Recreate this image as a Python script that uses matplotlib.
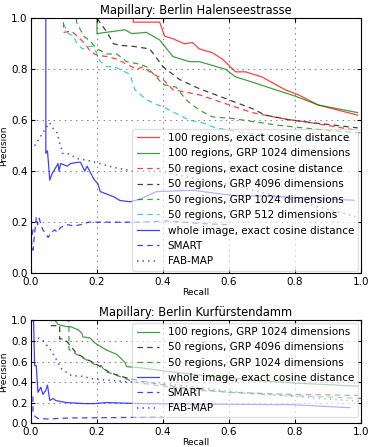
import matplotlib
matplotlib.use("Agg")
from matplotlib import pyplot as plt

# --- Mapillary: Berlin Halenseestrasse ---
h_100_exact_r = [0.05, 0.31, 0.31, 0.39, 0.405, 0.43, 0.465, 0.49, 0.51, 0.55, 0.58, 0.62, 0.65, 0.70, 0.77, 0.81, 0.87, 0.99]
h_100_exact_p = [1.0, 1.0, 0.985, 0.985, 0.93, 0.92, 0.90, 0.905, 0.88, 0.865, 0.84, 0.79, 0.79, 0.77, 0.72, 0.70, 0.66, 0.62]

h_100_grp1024_r = [0.1, 0.2, 0.2, 0.285, 0.305, 0.35, 0.39, 0.43, 0.48, 0.51, 0.59, 0.62, 0.67, 0.74, 0.80, 0.87, 0.99]
h_100_grp1024_p = [1.0, 1.0, 0.94, 0.955, 0.94, 0.945, 0.915, 0.85, 0.83, 0.83, 0.80, 0.77, 0.75, 0.72, 0.695, 0.66, 0.63]

h_50_exact_r = [0.098, 0.10, 0.123, 0.14, 0.164, 0.18, 0.20, 0.23, 0.26, 0.29, 0.32, 0.34, 0.36, 0.40, 0.43, 0.47, 0.51, 0.59, 0.67, 0.76, 0.83, 0.99]
h_50_exact_p = [0.985, 0.945, 0.95, 0.93, 0.90, 0.87, 0.855, 0.85, 0.84, 0.82, 0.80, 0.81, 0.79, 0.76, 0.72, 0.71, 0.70, 0.665, 0.63, 0.607, 0.594, 0.56]

h_50_grp4096_r = [0.2, 0.23, 0.25, 0.27, 0.31, 0.36, 0.40, 0.45, 0.51, 0.59, 0.67, 0.71, 0.79, 0.99]
h_50_grp4096_p = [1.0, 0.946, 0.90, 0.894, 0.89, 0.88, 0.81, 0.76, 0.724, 0.685, 0.646, 0.62, 0.60, 0.57]

h_50_grp1024_r = [0.138, 0.138, 0.16, 0.18, 0.20, 0.23, 0.26, 0.29, 0.33, 0.35, 0.38, 0.40, 0.44, 0.47, 0.51, 0.55, 0.61, 0.75, 0.9, 1.0]
h_50_grp1024_p = [1.0, 0.985, 0.93, 0.91, 0.88, 0.86, 0.86, 0.83, 0.82, 0.81, 0.77, 0.74, 0.73, 0.68, 0.64, 0.613, 0.607, 0.58, 0.56, 0.55]

h_50_grp512_r = [0.098, 0.113, 0.128, 0.14, 0.156, 0.176, 0.19, 0.21, 0.23, 0.25, 0.27, 0.30, 0.315, 0.35, 0.385, 0.42, 0.45, 0.48, 0.52, 0.56, 0.65, 0.8, 0.97]
h_50_grp512_p = [0.98, 0.94, 0.93, 0.90, 0.88, 0.89, 0.89, 0.83, 0.81, 0.81, 0.80, 0.78, 0.72, 0.68, 0.66, 0.64, 0.62, 0.60, 0.59, 0.57, 0.55, 0.53, 0.52]

h_whole_r = [0.045, 0.045, 0.05, 0.057, 0.064, 0.082, 0.085, 0.09, 0.11, 0.12, 0.142, 0.15, 0.163, 0.17, 0.19, 0.203, 0.21, 0.23, 0.25, 0.27, 0.30, 0.33, 0.38, 0.49, 0.61, 0.76, 0.98]
h_whole_p = [1.0, 0.47, 0.48, 0.365, 0.39, 0.43, 0.40, 0.43, 0.42, 0.43, 0.435, 0.435, 0.40, 0.42, 0.37, 0.35, 0.32, 0.31, 0.30, 0.285, 0.28, 0.29, 0.32, 0.325, 0.305, 0.30, 0.286]

h_smart_r = [0.001, 0.001, 0.006, 0.001, 0.006, 0.016, 0.02, 0.025, 0.03, 0.036, 0.042, 0.052, 0.062, 0.072, 0.08, 0.09, 0.112, 0.13, 0.15, 0.175, 0.23, 0.33, 0.41, 0.51, 0.6]
h_smart_p = [0.247, 0.19, 0.17, 0.13, 0.09, 0.22, 0.19, 0.215, 0.19, 0.17, 0.16, 0.14, 0.16, 0.17, 0.16, 0.18, 0.19, 0.185, 0.19, 0.20, 0.20, 0.20, 0.205, 0.195, 0.19]

h_fabmap_r = [0.011, 0.031, 0.045, 0.057, 0.066, 0.08, 0.085, 0.092, 0.095, 0.11, 0.14, 0.18, 0.25, 0.31, 0.39, 0.5, 0.61, 0.72, 0.815, 0.9, 0.99]
h_fabmap_p = [0.50, 0.54, 0.57, 0.59, 0.57, 0.55, 0.52, 0.49, 0.47, 0.47, 0.45, 0.44, 0.415, 0.40, 0.40, 0.37, 0.345, 0.31, 0.28, 0.25, 0.22]

# --- Mapillary: Berlin Kurfürstendamm ---
k_100_grp1024_r = [0.06, 0.073, 0.083, 0.108, 0.12, 0.143, 0.154, 0.157, 0.179, 0.194, 0.209, 0.23, 0.26, 0.285, 0.29, 0.33, 0.4, 0.5, 0.6, 0.7, 0.8, 0.885, 0.99]
k_100_grp1024_p = [1.0, 1.0, 0.96, 0.94, 0.94, 0.91, 0.876, 0.84, 0.83, 0.78, 0.75, 0.71, 0.67, 0.59, 0.55, 0.54, 0.51, 0.47, 0.44, 0.41, 0.39, 0.377, 0.36]

k_50_grp4096_r = [0.06, 0.087, 0.087, 0.10, 0.11, 0.138, 0.169, 0.19, 0.21, 0.24, 0.26, 0.29, 0.35, 0.45, 0.6, 0.79, 0.99]
k_50_grp4096_p = [0.95, 0.95, 0.82, 0.82, 0.79, 0.68, 0.62, 0.59, 0.55, 0.49, 0.47, 0.44, 0.40, 0.35, 0.30, 0.28, 0.27]

k_50_grp1024_r = [0.103, 0.115, 0.115, 0.133, 0.163, 0.194, 0.213, 0.224, 0.264, 0.29, 0.31, 0.4, 0.5, 0.7, 0.85, 1.0]
k_50_grp1024_p = [1.0, 1.0, 0.72, 0.68, 0.625, 0.57, 0.56, 0.505, 0.46, 0.43, 0.40, 0.36, 0.32, 0.28, 0.26, 0.24]

k_whole_r = [0.005, 0.008, 0.011, 0.016, 0.021, 0.03, 0.036, 0.045, 0.05, 0.057, 0.067, 0.075, 0.09, 0.108, 0.16, 0.19, 0.23, 0.33, 0.5, 0.79, 0.967]
k_whole_p = [1.0, 0.99, 0.56, 0.56, 0.30, 0.35, 0.28, 0.32, 0.37, 0.22, 0.24, 0.22, 0.21, 0.20, 0.19, 0.19, 0.20, 0.19, 0.185, 0.18, 0.15]

k_smart_r = [0.006, 0.006, 0.011, 0.02, 0.05, 0.12, 0.2, 0.3, 0.4]
k_smart_p = [0.26, 0.12, 0.07, 0.045, 0.04, 0.05, 0.052, 0.055, 0.06]

k_fabmap_r = [0.021, 0.037, 0.058, 0.077, 0.092, 0.118, 0.13, 0.148, 0.19, 0.25, 0.30, 0.4, 0.5, 0.6, 0.8, 1.0]
k_fabmap_p = [0.83, 0.80, 0.72, 0.62, 0.53, 0.47, 0.46, 0.46, 0.43, 0.415, 0.40, 0.39, 0.35, 0.31, 0.26, 0.21]

plt.rcParams['lines.scale_dashes'] = False
plt.rcParams['lines.dashed_pattern'] = [4.0, 3.0]
plt.rcParams['lines.dotted_pattern'] = [1.0, 3.0]


def style_axes(ax, title):
    ax.set_xlim(0, 1)
    ax.set_ylim(0, 1)
    ax.set_xticks([0.0, 0.2, 0.4, 0.6, 0.8, 1.0])
    ax.set_yticks([0.0, 0.2, 0.4, 0.6, 0.8, 1.0])
    ax.tick_params(direction="in", top=True, right=True, labelsize=7.5, length=3, pad=2.5)
    ax.grid(True, color="k", linestyle=":", linewidth=0.6, alpha=0.6)
    ax.set_title(title, fontsize=8.3, pad=3)
    ax.set_xlabel("Recall", fontsize=6.5, labelpad=1)
    ax.set_ylabel("Precision", fontsize=6.5, labelpad=2)


def main():
    fig = plt.figure(figsize=(3.72, 4.47), dpi=100)
    ax1 = fig.add_axes([0.0833, 0.389, 0.887, 0.570])
    ax2 = fig.add_axes([0.0833, 0.0535, 0.887, 0.2295])
    a = 0.75
    lw = 0.9

    ax1.plot(h_100_exact_r, h_100_exact_p, "r-", lw=lw, alpha=a, label="100 regions, exact cosine distance")
    ax1.plot(h_100_grp1024_r, h_100_grp1024_p, "g-", lw=lw, alpha=a, label="100 regions, GRP 1024 dimensions")
    ax1.plot(h_50_exact_r, h_50_exact_p, "r--", lw=lw, alpha=a, label="50 regions, exact cosine distance")
    ax1.plot(h_50_grp4096_r, h_50_grp4096_p, "k--", lw=lw, alpha=a, label="50 regions, GRP 4096 dimensions")
    ax1.plot(h_50_grp1024_r, h_50_grp1024_p, "g--", lw=lw, alpha=a, label="50 regions, GRP 1024 dimensions")
    ax1.plot(h_50_grp512_r, h_50_grp512_p, "c--", lw=lw, alpha=a, label="50 regions, GRP 512 dimensions")
    ax1.plot(h_whole_r, h_whole_p, "b-", lw=lw, alpha=a, label="whole image, exact cosine distance")
    ax1.plot(h_smart_r, h_smart_p, "b--", lw=lw, alpha=a, label="SMART")
    ax1.plot(h_fabmap_r, h_fabmap_p, "b:", lw=lw + 0.2, alpha=a, label="FAB-MAP")
    style_axes(ax1, "Mapillary: Berlin Halenseestrasse")
    ax1.legend(loc="lower right", fontsize=7.5, framealpha=0.6, borderaxespad=0.25,
               labelspacing=0.52, handlelength=2.2, borderpad=0.4)

    ax2.plot(k_100_grp1024_r, k_100_grp1024_p, "g-", lw=lw, alpha=a, label="100 regions, GRP 1024 dimensions")
    ax2.plot(k_50_grp4096_r, k_50_grp4096_p, "k--", lw=lw, alpha=a, label="50 regions, GRP 4096 dimensions")
    ax2.plot(k_50_grp1024_r, k_50_grp1024_p, "g--", lw=lw, alpha=a, label="50 regions, GRP 1024 dimensions")
    ax2.plot(k_whole_r, k_whole_p, "b-", lw=lw, alpha=a, label="whole image, exact cosine distance")
    ax2.plot(k_smart_r, k_smart_p, "b--", lw=lw, alpha=a, label="SMART")
    ax2.plot(k_fabmap_r, k_fabmap_p, "b:", lw=lw + 0.2, alpha=a, label="FAB-MAP")
    style_axes(ax2, "Mapillary: Berlin Kurfürstendamm")
    ax2.legend(loc="upper right", fontsize=7.5, framealpha=0.6, borderaxespad=0.25,
               labelspacing=0.5, handlelength=2.2, borderpad=0.4)

    fig.savefig("out.png", dpi=100, facecolor="white")


if __name__ == '__main__':
    main()
